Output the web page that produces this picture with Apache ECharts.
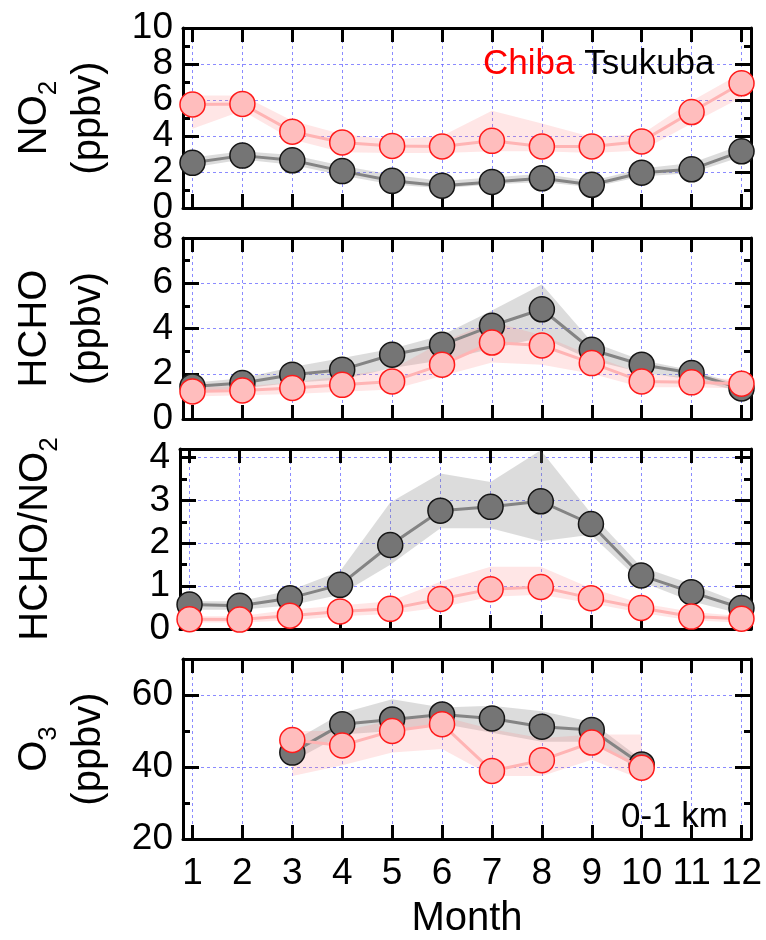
<!DOCTYPE html>
<html>
<head>
<meta charset="utf-8">
<script src="https://cdn.jsdelivr.net/npm/echarts@6/dist/echarts.min.js"></script>
<style>html,body{margin:0;padding:0;background:#fff;}#c{width:766px;height:940px;}</style>
</head>
<body>
<div id="c"></div>
<script>
// ---------- data ----------
const months = [1,2,3,4,5,6,7,8,9,10,11,12];
const o3Months = [3,4,5,6,7,8,9,10];
const xTickLabels = [1,2,3,4,5,6,7,8,9,10,11,12];
const no2Ticks   = [0,2,4,6,8,10];
const hchoTicks  = [0,2,4,6,8];
const ratioTicks = [0,1,2,3,4];
const o3Ticks    = [20,40,60];

const no2Chiba   = [5.75,5.78,4.24,3.64,3.45,3.42,3.73,3.42,3.42,3.70,5.33,6.93];
const no2ChibaLo = [4.40,5.40,3.80,3.10,3.05,3.05,3.15,3.15,3.05,3.20,4.70,6.15];
const no2ChibaHi = [6.25,6.25,4.85,4.10,3.80,4.00,5.40,4.70,3.95,4.10,5.95,7.50];
const no2Tsu     = [2.51,2.91,2.65,2.05,1.51,1.24,1.45,1.65,1.29,1.96,2.15,3.15];
const no2TsuLo   = [2.25,2.70,2.40,1.80,1.30,1.10,1.30,1.45,1.15,1.75,1.95,2.85];
const no2TsuHi   = [2.80,3.15,2.95,2.35,1.85,1.50,1.70,1.90,1.50,2.20,2.50,3.50];

const hchoChiba   = [1.22,1.26,1.37,1.51,1.66,2.40,3.38,3.25,2.47,1.66,1.62,1.56];
const hchoChibaLo = [1.00,1.05,1.10,1.20,1.30,1.90,2.50,2.40,2.00,1.40,1.40,1.35];
const hchoChibaHi = [1.40,1.45,1.60,1.90,2.20,3.40,4.30,3.70,2.80,2.00,1.85,1.75];
const hchoTsu     = [1.44,1.59,1.96,2.18,2.84,3.28,4.12,4.85,3.06,2.40,2.03,1.35];
const hchoTsuLo   = [1.20,1.35,1.60,1.75,2.25,2.60,3.10,3.60,2.60,2.05,1.75,1.20];
const hchoTsuHi   = [1.60,1.80,2.30,2.70,3.10,3.70,4.80,5.95,3.40,2.60,2.15,1.50];

const ratioChiba   = [0.23,0.22,0.31,0.41,0.47,0.70,0.93,0.98,0.72,0.49,0.29,0.24];
const ratioChibaLo = [0.15,0.15,0.20,0.30,0.35,0.50,0.75,0.80,0.60,0.38,0.20,0.15];
const ratioChibaHi = [0.30,0.30,0.45,0.55,0.65,1.10,1.45,1.45,0.95,0.60,0.40,0.30];
const ratioTsu     = [0.57,0.54,0.72,1.03,1.96,2.76,2.85,2.98,2.45,1.25,0.86,0.49];
const ratioTsuLo   = [0.45,0.45,0.55,0.80,1.50,2.35,2.35,2.05,2.20,1.10,0.65,0.35];
const ratioTsuHi   = [0.65,0.65,0.90,1.35,2.95,3.63,3.43,4.17,2.70,1.45,1.05,0.60];

const o3Chiba   = [47.5,46.0,50.0,51.9,38.9,41.9,46.8,39.8];
const o3ChibaLo = [37.5,40.5,44.0,45.0,37.5,37.5,42.0,36.5];
const o3ChibaHi = [50.0,50.0,53.0,54.0,50.5,48.0,49.0,49.0];
const o3Tsu     = [44.0,51.9,53.2,54.6,53.5,51.2,50.3,40.7];
const o3TsuLo   = [41.5,49.0,50.0,52.0,49.5,47.0,47.0,39.0];
const o3TsuHi   = [47.0,55.0,58.8,56.5,57.0,55.5,52.5,42.0];

// ---------- layout / style ----------
const FONT = 'Liberation Sans, Arial, Helvetica, sans-serif';
const GRID_COLOR = 'rgba(100,100,255,0.75)';
const X_MIN = 0.81, X_MAX = 12.19;

const panels = [
  {x: months, c: no2Chiba, cLo: no2ChibaLo, cHi: no2ChibaHi, t: no2Tsu, tLo: no2TsuLo, tHi: no2TsuHi,
   ticks: no2Ticks, top: 28, height: 180, min: 0, max: 10, interval: 2,
   name: 'NO{s|2}\n(ppbv)', gap: 67},
  {x: months, c: hchoChiba, cLo: hchoChibaLo, cHi: hchoChibaHi, t: hchoTsu, tLo: hchoTsuLo, tHi: hchoTsuHi,
   ticks: hchoTicks, top: 238, height: 181, min: 0, max: 8, interval: 2,
   name: 'HCHO\n(ppbv)', gap: 67},
  {x: months, c: ratioChiba, cLo: ratioChibaLo, cHi: ratioChibaHi, t: ratioTsu, tLo: ratioTsuLo, tHi: ratioTsuHi,
   ticks: ratioTicks, top: 449, height: 180, min: 0, max: 4.2, interval: 1,
   name: 'HCHO/NO{s|2}', gap: 117},
  {x: o3Months, c: o3Chiba, cLo: o3ChibaLo, cHi: o3ChibaHi, t: o3Tsu, tLo: o3TsuLo, tHi: o3TsuHi,
   ticks: o3Ticks, top: 659, height: 180, min: 20, max: 70, interval: 20,
   name: 'O{s|3}\n(ppbv)', gap: 67}
];

const pairs = (xs, ys) => xs.map((x, i) => [x, ys[i]]);

const grids = [], xAxes = [], yAxes = [], series = [];
const black3 = {color: '#000', width: 3};
const nameStyle = {
  fontSize: 40, lineHeight: 54, color: '#000', fontFamily: FONT,
  rich: {s: {fontSize: 26, lineHeight: 26, verticalAlign: 'bottom', color: '#000', fontFamily: FONT}}
};

function bandSeries(xi, yi, xs, lo, hi, color) {
  return {
    type: 'custom', xAxisIndex: xi, yAxisIndex: yi, silent: true, z: 1,
    data: xs.map((x, i) => [x, lo[i], hi[i]]),
    encode: {x: 0, y: [1, 2]},
    renderItem: function (params, api) {
      if (params.dataIndexInside !== 0) return null;
      const n = params.dataInsideLength;
      const up = [], dn = [];
      for (let i = 0; i < n; i++) {
        const xv = api.value(0, i);
        up.push(api.coord([xv, api.value(2, i)]));
        dn.push(api.coord([xv, api.value(1, i)]));
      }
      return {type: 'polygon', shape: {points: up.concat(dn.reverse())}, style: {fill: color}, silent: true};
    }
  };
}

panels.forEach((p, g) => {
  grids.push({left: 180, right: 15, top: p.top, height: p.height, containLabel: false});
  const last = g === panels.length - 1;
  xAxes.push({
    type: 'value', gridIndex: g, position: 'bottom', min: X_MIN, max: X_MAX,
    axisLine: {show: true, onZero: false, lineStyle: black3},
    axisTick: {show: true, inside: true, length: 14, lineStyle: black3, customValues: months},
    axisLabel: {show: last, customValues: xTickLabels, fontSize: 37, color: '#000', margin: 16, fontFamily: FONT,
                showMinLabel: true, showMaxLabel: true},
    splitLine: {show: true, lineStyle: {color: GRID_COLOR, width: 1, type: [3, 3]}},
    name: last ? 'Month' : '', nameLocation: 'middle', nameGap: 60,
    nameTextStyle: {fontSize: 40, lineHeight: 40, color: '#000', fontFamily: FONT}
  });
  xAxes.push({
    type: 'value', gridIndex: g, position: 'top', min: X_MIN, max: X_MAX,
    axisLine: {show: true, onZero: false, lineStyle: black3},
    axisTick: {show: true, inside: true, length: 14, lineStyle: black3, customValues: months},
    axisLabel: {show: false}, splitLine: {show: false}
  });
  const yi = yAxes.length;
  // left major: line, ticks, grid lines, name
  yAxes.push({
    type: 'value', gridIndex: g, position: 'left', min: p.min, max: p.max, interval: p.interval,
    axisLine: {show: true, lineStyle: black3},
    axisTick: {show: true, inside: true, length: 16, lineStyle: black3},
    axisLabel: {show: false},
    splitLine: {show: true, lineStyle: {color: GRID_COLOR, width: 1, type: [3, 3]}},
    name: p.name, nameLocation: 'middle', nameRotate: 90, nameGap: p.gap, nameTextStyle: nameStyle
  });
  // left minor ticks
  yAxes.push({
    type: 'value', gridIndex: g, position: 'left', min: p.min, max: p.max, interval: p.interval / 2,
    axisLine: {show: false}, axisTick: {show: true, inside: true, length: 7, lineStyle: black3},
    axisLabel: {show: false}, splitLine: {show: false}
  });
  // right major / minor ticks
  yAxes.push({
    type: 'value', gridIndex: g, position: 'right', min: p.min, max: p.max, interval: p.interval,
    axisLine: {show: true, lineStyle: black3},
    axisTick: {show: true, inside: true, length: 16, lineStyle: black3},
    axisLabel: {show: false}, splitLine: {show: false}
  });
  yAxes.push({
    type: 'value', gridIndex: g, position: 'right', min: p.min, max: p.max, interval: p.interval / 2,
    axisLine: {show: false}, axisTick: {show: true, inside: true, length: 7, lineStyle: black3},
    axisLabel: {show: false}, splitLine: {show: false}
  });
  // tick labels split over two label-only axes so that no label gets auto-hidden
  [0, 1].forEach(k => {
    yAxes.push({
      type: 'value', gridIndex: g, position: 'left', min: p.min, max: p.max,
      axisLine: {show: false}, axisTick: {show: false}, splitLine: {show: false},
      axisLabel: {show: true, customValues: p.ticks.filter((v, i) => i % 2 === k),
                  fontSize: 37, color: '#000', margin: 10, fontFamily: FONT,
                  showMinLabel: true, showMaxLabel: true}
    });
  });

  const xi = 2 * g;
  series.push(bandSeries(xi, yi, p.x, p.tLo, p.tHi, 'rgba(130,130,130,0.28)'));
  series.push(bandSeries(xi, yi, p.x, p.cLo, p.cHi, 'rgba(255,130,130,0.2)'));
  series.push({
    type: 'line', name: 'Tsukuba', xAxisIndex: xi, yAxisIndex: yi, data: pairs(p.x, p.t),
    symbol: 'circle', symbolSize: 25, z: 3,
    lineStyle: {color: '#848484', width: 3},
    itemStyle: {color: '#757575', borderColor: '#151515', borderWidth: 1.5}
  });
  series.push({
    type: 'line', name: 'Chiba', xAxisIndex: xi, yAxisIndex: yi, data: pairs(p.x, p.c),
    symbol: 'circle', symbolSize: 25, z: 4,
    lineStyle: {color: '#ffb4b4', width: 3},
    itemStyle: {color: '#ffbdbd', borderColor: '#ff1a1a', borderWidth: 1.5}
  });
});

const chart = echarts.init(document.getElementById('c'), null, {renderer: 'canvas'});
chart.setOption({
  animation: false,
  backgroundColor: '#fff',
  title: [
    {text: '{r|Chiba} {k|Tsukuba}', left: 478, top: 42,
     textStyle: {fontSize: 35, fontWeight: 'normal', fontFamily: FONT, color: '#000',
       rich: {r: {color: '#ff0000', fontSize: 35, fontWeight: 'normal', fontFamily: FONT},
              k: {color: '#000', fontSize: 35, fontWeight: 'normal', fontFamily: FONT}}}},
    {text: '0-1 km', left: 616, top: 795,
     textStyle: {fontSize: 35, fontWeight: 'normal', fontFamily: FONT, color: '#000'}}
  ],
  grid: grids, xAxis: xAxes, yAxis: yAxes, series: series
});
</script>
</body>
</html>
